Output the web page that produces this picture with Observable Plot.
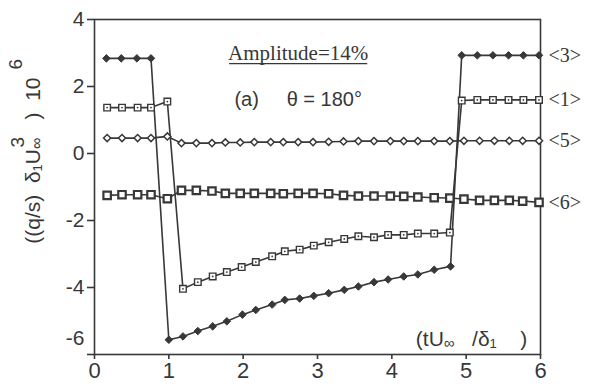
<!DOCTYPE html>
<html><head><meta charset="utf-8">
<script src="https://cdn.jsdelivr.net/npm/d3@7"></script>
<script src="https://cdn.jsdelivr.net/npm/@observablehq/plot@0.6"></script>
<style>body{margin:0;background:#fff}</style>
</head><body><div id="chart"></div>
<script>
// ---- data ----
const xTicks = [0, 1, 2, 3, 4, 5, 6];
const yTicks = [4, 2, 0, -2, -4, -6];

// series <3> (filled diamonds)
const x3 = [0.16,0.36,0.57,0.76, 1.0,1.19,1.39,1.59,1.78,1.99,2.17,2.39,2.56,2.76,2.95,3.15,3.36,3.55,3.76,3.95,4.16,4.35,4.57,4.79, 4.94,5.15,5.36,5.57,5.77,5.98];
const y3 = [2.84,2.84,2.84,2.84, -5.56,-5.46,-5.30,-5.16,-5.01,-4.81,-4.67,-4.51,-4.37,-4.33,-4.25,-4.17,-4.07,-3.97,-3.84,-3.76,-3.67,-3.61,-3.47,-3.37, 2.93,2.93,2.93,2.93,2.93,2.93];
// series <1> (open squares with centre dot)
const x1 = [0.17,0.37,0.58,0.76,0.98, 1.19,1.39,1.59,1.78,1.98,2.17,2.39,2.56,2.76,2.95,3.15,3.36,3.55,3.76,3.95,4.16,4.35,4.57,4.78, 4.94,5.15,5.36,5.57,5.77,5.98];
const y1 = [1.37,1.37,1.37,1.37,1.55, -4.04,-3.84,-3.67,-3.54,-3.39,-3.24,-3.07,-2.92,-2.87,-2.75,-2.65,-2.55,-2.47,-2.50,-2.43,-2.43,-2.39,-2.39,-2.36, 1.58,1.60,1.60,1.60,1.60,1.60];
// series <5> (open diamonds)
const x5 = [0.17,0.37,0.58,0.76,0.98,1.17,1.37,1.58,1.76,1.96,2.15,2.37,2.54,2.74,2.94,3.15,3.35,3.55,3.76,3.98,4.16,4.35,4.57,4.78,4.97,5.18,5.38,5.58,5.76,5.98];
const y5 = [0.46,0.46,0.46,0.46,0.51,0.31,0.31,0.31,0.33,0.33,0.34,0.34,0.34,0.34,0.34,0.35,0.36,0.37,0.37,0.37,0.37,0.37,0.37,0.37,0.38,0.38,0.38,0.38,0.38,0.38];
// series <6> (open squares, heavy)
const x6 = [0.17,0.37,0.58,0.76,0.98,1.17,1.37,1.58,1.76,1.96,2.15,2.37,2.54,2.74,2.94,3.15,3.35,3.55,3.76,3.98,4.16,4.35,4.57,4.78,4.97,5.18,5.38,5.58,5.76,5.98];
const y6 = [-1.25,-1.23,-1.23,-1.23,-1.35,-1.10,-1.10,-1.12,-1.19,-1.19,-1.19,-1.19,-1.20,-1.19,-1.19,-1.20,-1.25,-1.27,-1.27,-1.27,-1.28,-1.30,-1.32,-1.33,-1.36,-1.40,-1.40,-1.40,-1.42,-1.46];

const seriesLabels = ["<3>", "<1>", "<5>", "<6>"];
const titleText = "Amplitude=14%";
const subText = "(a)     θ = 180°";

// ---- build tables ----
const rows = (xs, ys, s) => xs.map((x, i) => ({x, y: ys[i], s}));
const d3r = rows(x3, y3, "<3>");
const d1r = rows(x1, y1, "<1>");
const d5r = rows(x5, y5, "<5>");
const d6r = rows(x6, y6, "<6>");
const ends = [d3r, d1r, d5r, d6r].map((d, i) => ({x: 6, y: d[d.length - 1].y, t: seriesLabels[i]}));

const ink = "#383838";
const serif = "'Liberation Serif', 'Times New Roman', serif";
const sans = "'Liberation Sans', Arial, Helvetica, sans-serif";

const plot = Plot.plot({
  width: 590, height: 388,
  marginLeft: 94, marginRight: 50, marginTop: 19, marginBottom: 34,
  style: {fontFamily: sans, fontSize: "21px", color: ink, background: "#fff", overflow: "visible"},
  x: {domain: [0, 6]},
  y: {domain: [-6, 4]},
  marks: [
    Plot.frame({stroke: ink, strokeWidth: 1.6}),
    Plot.axisX({ticks: xTicks, tickSize: 5, tickPadding: 3, tickFormat: d => String(d), label: null, fontSize: 22, strokeWidth: 1.6}),
    Plot.axisY({ticks: yTicks, tickSize: 7, tickPadding: 3, tickFormat: d => d === -6 ? "" : String(d), label: null, fontSize: 21, strokeWidth: 1.6}),
    Plot.text([-6], {y: d => d, frameAnchor: "left", dx: -10, dy: -16, textAnchor: "end", text: d => String(d), fontSize: 21}),
    // lines
    Plot.line(d3r, {x: "x", y: "y", stroke: ink, strokeWidth: 1.6}),
    Plot.line(d1r, {x: "x", y: "y", stroke: ink, strokeWidth: 1.6}),
    Plot.line(d5r, {x: "x", y: "y", stroke: ink, strokeWidth: 1.6}),
    Plot.line(d6r, {x: "x", y: "y", stroke: ink, strokeWidth: 1.6}),
    // markers
    Plot.dot(d3r, {x: "x", y: "y", symbol: "diamond2", r: 3.4, fill: ink, stroke: ink, strokeWidth: 1}),
    Plot.dot(d1r, {x: "x", y: "y", symbol: "square", r: 3.7, fill: "#fff", stroke: ink, strokeWidth: 1.4}),
    Plot.dot(d1r, {x: "x", y: "y", r: 0.9, fill: ink}),
    Plot.dot(d5r, {x: "x", y: "y", symbol: "diamond2", r: 3.2, fill: "#fff", stroke: ink, strokeWidth: 1.5}),
    Plot.dot(d6r, {x: "x", y: "y", symbol: "square", r: 4.2, fill: "#fff", stroke: ink, strokeWidth: 2.2}),
    // right-hand series labels
    Plot.text(ends, {x: "x", y: "y", text: "t", dx: 8, textAnchor: "start", fontFamily: serif, fontSize: 20, fill: ink}),
    // titles
    Plot.text([titleText], {x: 2.74, y: 3.0, text: d => d, fontFamily: serif, fontSize: 21, fill: ink}),
    Plot.text([subText], {x: 2.74, y: 1.6, text: d => d, fontFamily: sans, fontSize: 20, fill: ink})
  ]
});

document.getElementById("chart").append(plot);
const svg = d3.select(plot);
svg.selectAll("text").style("white-space", "pre");
const sx = plot.scale("x"), sy = plot.scale("y");

// underline the amplitude title (drawn in the text's own coordinate frame)
svg.selectAll("text").filter(function() { return this.textContent === titleText; }).each(function() {
  const b = this.getBBox();
  const t = this.getAttribute("transform");
  const ln = d3.select(this.parentNode).append("line")
    .attr("x1", b.x + 1).attr("x2", b.x + b.width - 1)
    .attr("y1", b.y + b.height - 1).attr("y2", b.y + b.height - 1)
    .attr("stroke", ink).attr("stroke-width", 1.3);
  if (t) ln.attr("transform", t);
});

// axis label inside the frame: (tU∞ /δ1 )
const xl = svg.append("text")
  .attr("x", sx.apply(4.33)).attr("y", sy.apply(-5.75))
  .attr("text-anchor", "start")
  .attr("fill", ink).style("font-family", sans).style("font-size", "21px").style("white-space", "pre");
xl.append("tspan").text("(tU");
xl.append("tspan").text("∞").style("font-size", "15px").attr("dy", 2);
xl.append("tspan").text("   /δ").attr("dy", -2);
xl.append("tspan").text("1").style("font-size", "13px").attr("dy", 2);
xl.append("tspan").text("    )").attr("dy", -2);

// rotated y-axis label: ((q/s) δ1U∞³ ) 10⁶
const yl = svg.append("text")
  .attr("transform", `translate(40,${sy.apply(0.05)}) rotate(-90)`)
  .attr("text-anchor", "middle")
  .attr("fill", ink).style("font-family", sans).style("font-size", "21px").style("white-space", "pre");
yl.append("tspan").text("((q/s)  δ");
yl.append("tspan").text("1").style("font-size", "13px").attr("dy", 2);
yl.append("tspan").text("U").attr("dy", -2);
yl.append("tspan").text("∞").style("font-size", "16px").attr("dy", 2);
yl.append("tspan").text("3").style("font-size", "19px").attr("dy", -18).attr("dx", -10);
yl.append("tspan").text("   )  10").attr("dy", 16);
yl.append("tspan").text("6").style("font-size", "19px").attr("dy", -18).attr("dx", 8);
</script>
</body></html>
